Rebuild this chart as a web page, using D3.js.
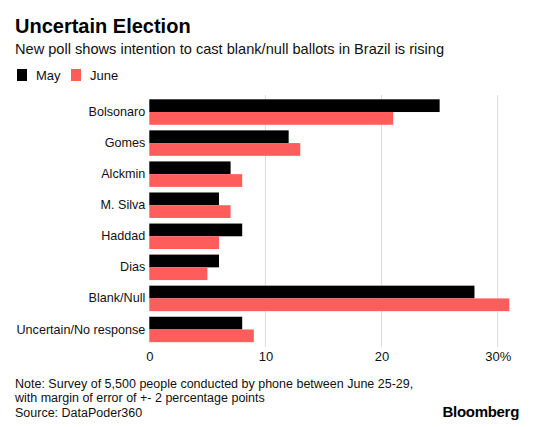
<!DOCTYPE html>
<html>
<head>
<meta charset="utf-8">
<script src="https://cdn.jsdelivr.net/npm/d3@7"></script>
<style>
  html, body { margin: 0; padding: 0; background: #fff; }
  svg { display: block; font-family: "Liberation Sans", Arial, Helvetica, sans-serif; }
</style>
</head>
<body>
<svg id="chart" width="560" height="427"></svg>
<script>
const categories = ["Bolsonaro", "Gomes", "Alckmin", "M. Silva", "Haddad", "Dias", "Blank/Null", "Uncertain/No response"];
const seriesNames = ["May", "June"];
const mayValues = [25, 12, 7, 6, 8, 6, 28, 8];
const juneValues = [21, 13, 8, 7, 6, 5, 31, 9];
const tickValues = [0, 10, 20, 30];
const tickLabels = ["0", "10", "20", "30%"];
const colors = ["#000000", "#ff5d5b"];

const title = "Uncertain Election";
const subtitle = "New poll shows intention to cast blank/null ballots in Brazil is rising";
const noteLines = [
  "Note: Survey of 5,500 people conducted by phone between June 25-29,",
  "with margin of error of +- 2 percentage points",
  "Source: DataPoder360"
];

const svg = d3.select("#chart");

const x = d3.scaleLinear().domain([0, 30]).range([149.3, 497.7]);
const y = d3.scaleBand().domain(categories).range([96.5, 345]).paddingInner(0.18).paddingOuter(0.09);
const sub = d3.scaleBand().domain(seriesNames).range([0, y.bandwidth()]);

// Title & subtitle
svg.append("text").attr("x", 15).attr("y", 33)
  .attr("font-size", 20).attr("font-weight", "bold").attr("fill", "#000")
  .text(title);
svg.append("text").attr("x", 15).attr("y", 54)
  .attr("font-size", 14.6).attr("fill", "#111")
  .text(subtitle);

// Legend
const legend = svg.append("g");
const legX = [17, 71];
seriesNames.forEach((s, i) => {
  legend.append("rect").attr("x", legX[i]).attr("y", 69).attr("width", 10).attr("height", 12).attr("fill", colors[i]);
  legend.append("text").attr("x", legX[i] + 19).attr("y", 80).attr("font-size", 13).attr("fill", "#111").text(s);
});

// Gridlines
svg.append("g").selectAll("line").data(tickValues.filter(d => d > 0)).join("line")
  .attr("x1", d => x(d)).attr("x2", d => x(d))
  .attr("y1", 95).attr("y2", 347)
  .attr("stroke", "#dcdcdc").attr("stroke-width", 1);

// Bars
const groups = svg.append("g").selectAll("g").data(categories).join("g")
  .attr("transform", d => `translate(0,${y(d)})`);
groups.selectAll("rect").data((d, i) => [
  { s: "May", v: mayValues[i] },
  { s: "June", v: juneValues[i] }
]).join("rect")
  .attr("x", x(0))
  .attr("y", d => sub(d.s))
  .attr("width", d => x(d.v) - x(0))
  .attr("height", sub.bandwidth())
  .attr("fill", d => colors[seriesNames.indexOf(d.s)]);

// Category labels
const yAxis = d3.axisLeft(y).tickSize(0).tickPadding(4);
const yg = svg.append("g").attr("transform", `translate(${x(0)},0)`).call(yAxis);
yg.select(".domain").remove();
yg.selectAll("text").attr("font-size", 12.6).attr("fill", "#111").attr("font-family", "Liberation Sans, Arial, sans-serif");

// X axis
const xAxis = d3.axisBottom(x).tickValues(tickValues).tickSize(0).tickPadding(0)
  .tickFormat((d, i) => tickLabels[i]);
const xg = svg.append("g").attr("transform", `translate(0,352)`).call(xAxis);
xg.select(".domain").remove();
xg.selectAll("text").attr("font-size", 13).attr("fill", "#111").attr("font-family", "Liberation Sans, Arial, sans-serif");

// Notes
svg.append("g").selectAll("text").data(noteLines).join("text")
  .attr("x", 15).attr("y", (d, i) => 388 + i * 14.3)
  .attr("font-size", 12.5).attr("fill", "#111")
  .text(d => d);

svg.append("text").attr("x", 519).attr("y", 417).attr("text-anchor", "end")
  .attr("font-size", 15).attr("font-weight", "bold").attr("fill", "#000")
  .attr("letter-spacing", -0.3)
  .text("Bloomberg");
</script>
</body>
</html>
